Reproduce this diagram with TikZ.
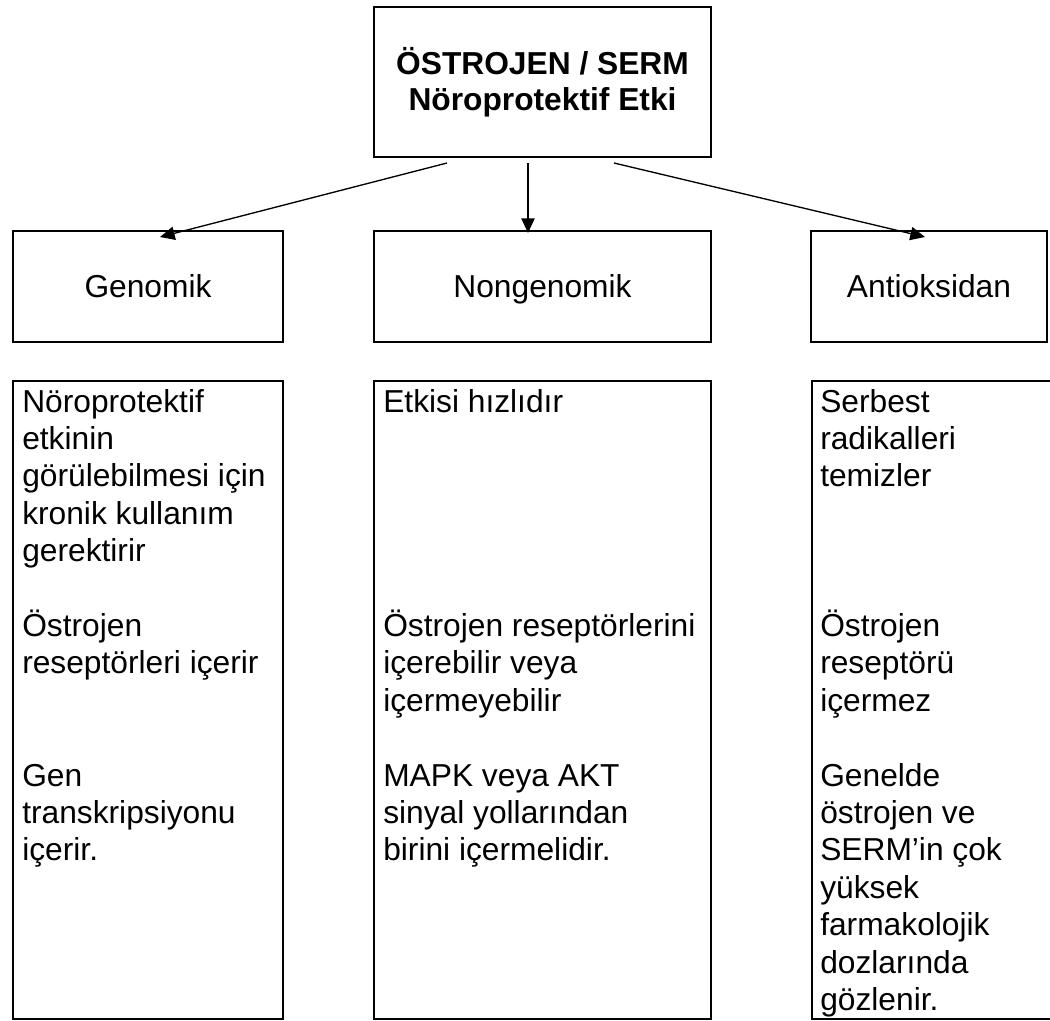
\documentclass[tikz,border=0pt]{standalone}
\usepackage{fontspec}
\setmainfont{Liberation Sans}
\usetikzlibrary{arrows.meta}
\begin{document}
\begin{tikzpicture}[x=0.75pt,y=-0.75pt,
  box/.style={draw, line width=1.5pt, inner sep=0pt, font=\fontsize{23.8}{28}\selectfont},
  catbox/.style={box, minimum height=83.25pt, text height=17pt, text depth=0pt},
  ln/.style={anchor=base west, inner sep=0pt, font=\fontsize{23.8}{28}\selectfont},
  arr/.style={line width=1pt, -{Triangle[length=11pt,width=10pt]}}]
\useasboundingbox (0,0) rectangle (1050,1021);
\fill[white] (0,0) rectangle (1050,1021);

% top box
\node[box, minimum width=252.75pt, minimum height=112.5pt, align=center,
      font=\bfseries\fontsize{23.8}{27}\selectfont] (top) at (542.5,82)
      {ÖSTROJEN / SERM\\Nöroprotektif Etki};

% category boxes
\node[catbox, minimum width=202.5pt] (gen) at (148,286.5) {Genomik};
\node[catbox, minimum width=252.75pt] (nongen) at (542.5,286.5) {Nongenomik};
\node[catbox, minimum width=177pt] (anti) at (929,286.5) {Antioksidan};

% arrows
\coordinate (s1) at (447,163);
\coordinate (e1) at (160,237);
\coordinate (s2) at (528,163);
\coordinate (e2) at (528,233);
\coordinate (s3) at (614,163);
\coordinate (e3) at (925,237);
\draw[arr] (s1) -- (e1);
\draw[arr] (s2) -- (e2);
\draw[arr] (s3) -- (e3);

% description boxes
\node[box, minimum width=202.5pt, minimum height=478.5pt] (gtxt) at (148,700) {};
\node[box, minimum width=252.75pt, minimum height=478.5pt] (ntxt) at (542.5,700) {};
\node[box, minimum width=187.5pt, minimum height=478.5pt] (atxt) at (937,700) {};

% texts
\foreach \n/\t in {0/Nöroprotektif, 1/etkinin, 2/görülebilmesi için, 3/kronik kullanım,
  4/gerektirir, 6/Östrojen, 7/reseptörleri içerir, 10/Gen, 11/transkripsiyonu, 12/içerir.}
  \node[ln] (g\n) at (22,{412+37.4*\n}) {\t};

\foreach \n/\t in {0/Etkisi hızlıdır, 6/Östrojen reseptörlerini, 7/içerebilir veya,
  8/içermeyebilir, 10/MAPK veya AKT, 11/sinyal yollarından, 12/birini içermelidir.}
  \node[ln] (n\n) at (383,{412+37.4*\n}) {\t};

\foreach \n/\t in {0/Serbest, 1/radikalleri, 2/temizler, 6/Östrojen, 7/reseptörü,
  8/içermez, 10/Genelde, 11/östrojen ve, 12/SERM’in çok, 13/yüksek, 14/farmakolojik,
  15/dozlarında, 16/gözlenir.}
  \node[ln] (a\n) at (820,{412+37.4*\n}) {\t};
\end{tikzpicture}
\end{document}
